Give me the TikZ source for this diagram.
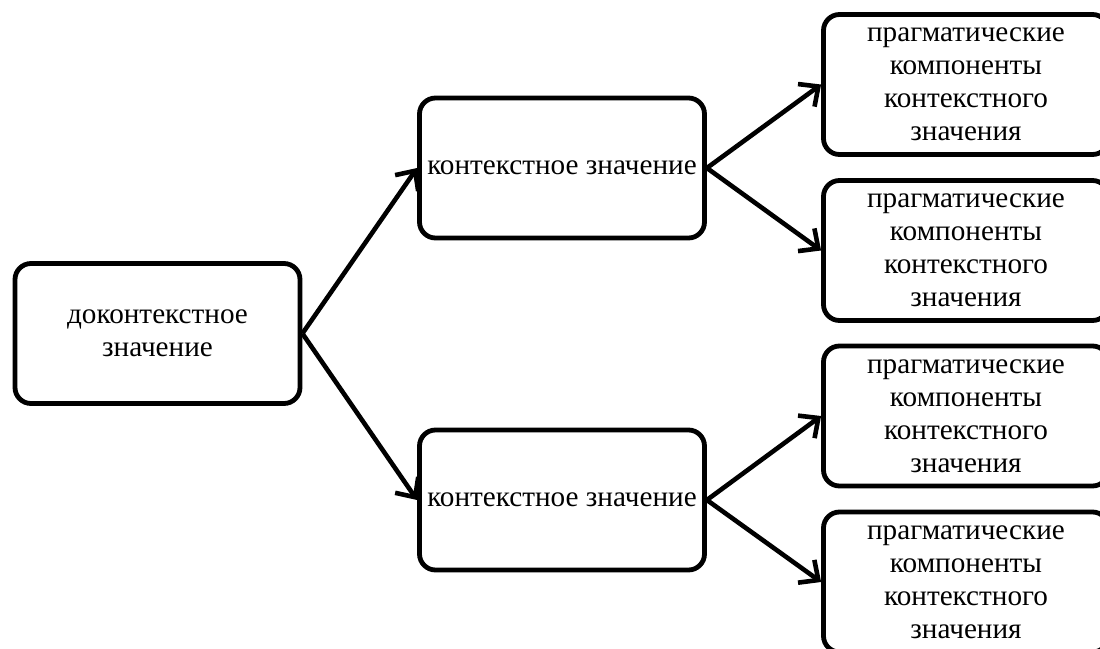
\documentclass[tikz,border=0pt]{standalone}
\usepackage{fontspec}
\setmainfont{Liberation Serif}
\newfontfamily\boxfont{Liberation Serif}
\usetikzlibrary{arrows.meta}

\begin{document}
\begin{tikzpicture}[x=0.5pt,y=-0.5pt,
    box/.style={draw,line width=2.4pt,rounded corners=8pt,minimum width=142.5pt,
      minimum height=70pt,align=center,inner sep=2pt,
      font=\boxfont\fontsize{14.6}{16.5}\selectfont},
    link/.style={line width=2.3pt,-{Straight Barb[length=7.5pt,width=14pt]}}]
  \clip (0,0) rectangle (1100,649);
  \node[box] (base) at (157.5,333.5) {доконтекстное\\значение};
  \node[box] (ctxa) at (562,168) {контекстное значение};
  \node[box] (ctxb) at (562,500) {контекстное значение};
  \node[box] (prga) at (966,84.5) {прагматические\\компоненты\\контекстного\\значения};
  \node[box] (prgb) at (966,250.5) {прагматические\\компоненты\\контекстного\\значения};
  \node[box] (prgc) at (966,416) {прагматические\\компоненты\\контекстного\\значения};
  \node[box] (prgd) at (966,582) {прагматические\\компоненты\\контекстного\\значения};
  \draw[link] (base.east) -- (ctxa.west);
  \draw[link] (base.east) -- (ctxb.west);
  \draw[link] (ctxa.east) -- (prga.west);
  \draw[link] (ctxa.east) -- (prgb.west);
  \draw[link] (ctxb.east) -- (prgc.west);
  \draw[link] (ctxb.east) -- (prgd.west);
\end{tikzpicture}
\end{document}
